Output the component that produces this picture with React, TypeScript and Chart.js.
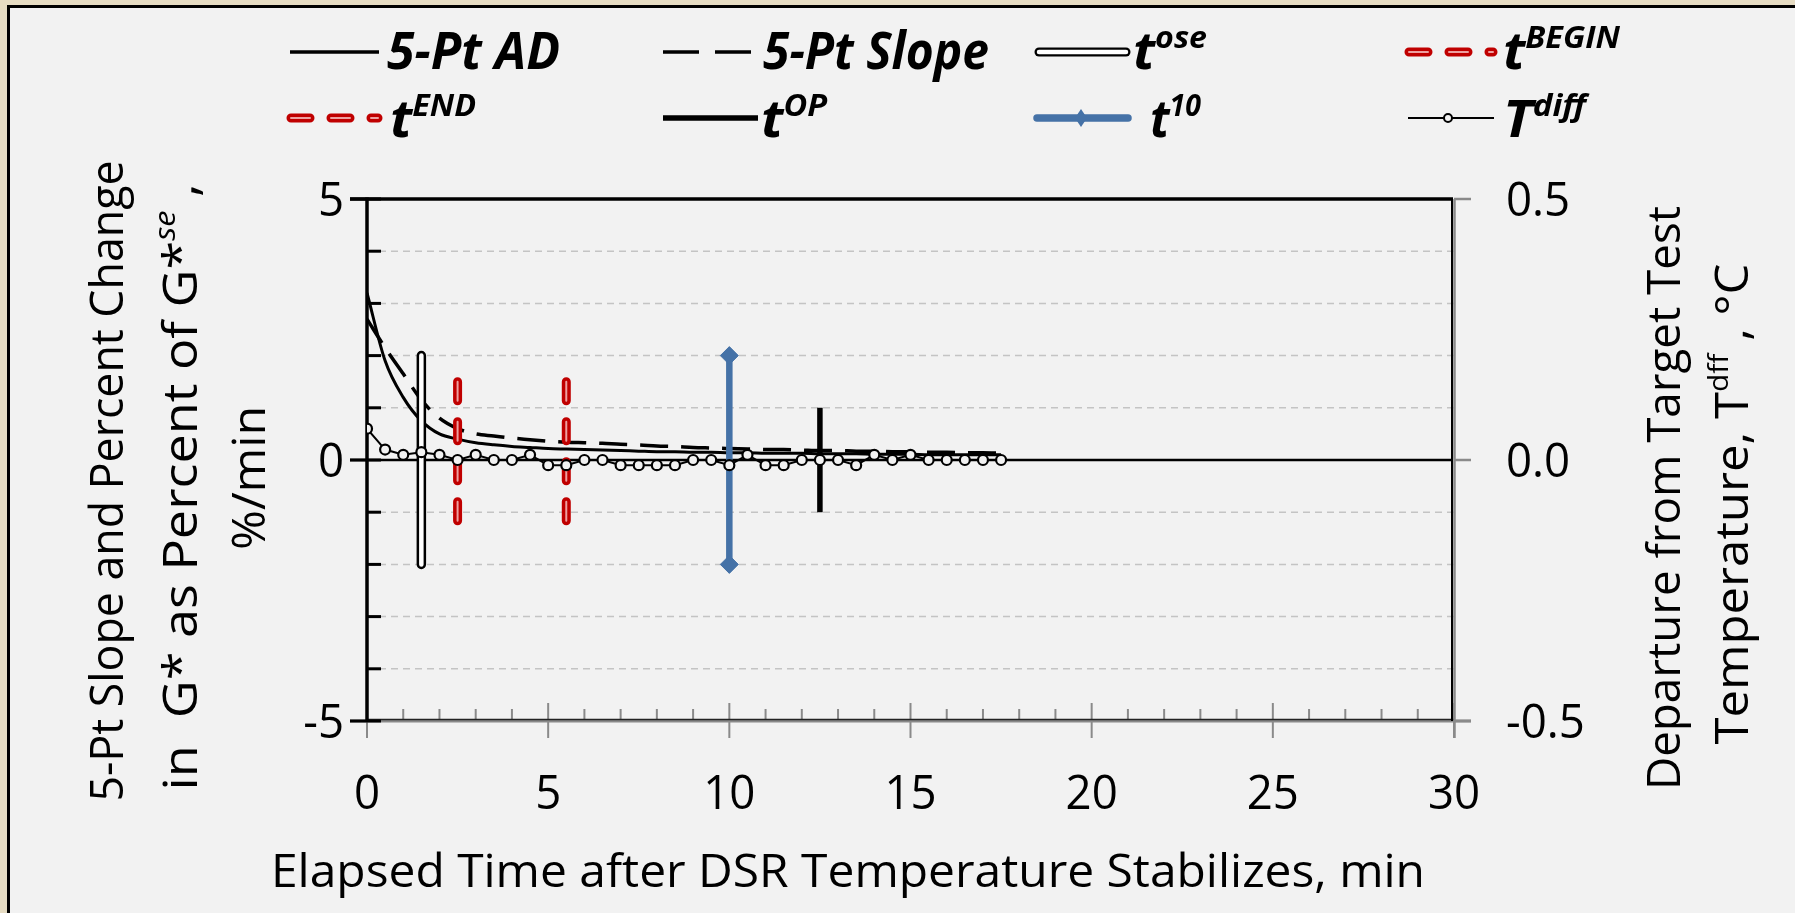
import React, { useEffect, useRef } from "react";
import { Chart, registerables } from "chart.js";

Chart.register(...registerables);

// ---------- data ----------
const times = [0, 0.5, 1, 1.5, 2, 2.5, 3, 3.5, 4, 4.5, 5, 5.5, 6, 6.5, 7, 7.5, 8, 8.5, 9, 9.5, 10, 10.5, 11, 11.5, 12, 12.5, 13, 13.5, 14, 14.5, 15, 15.5, 16, 16.5, 17, 17.5];
const adValues = [3.2, 1.9, 1.2, 0.75, 0.5, 0.4, 0.33, 0.29, 0.26, 0.24, 0.22, 0.21, 0.2, 0.19, 0.18, 0.17, 0.16, 0.16, 0.15, 0.15, 0.14, 0.14, 0.13, 0.13, 0.13, 0.12, 0.12, 0.12, 0.11, 0.11, 0.11, 0.1, 0.1, 0.1, 0.1, 0.1];
const slopeValues = [2.7, 2.15, 1.65, 1.15, 0.8, 0.6, 0.5, 0.46, 0.42, 0.39, 0.36, 0.34, 0.33, 0.32, 0.3, 0.29, 0.27, 0.26, 0.24, 0.23, 0.22, 0.21, 0.2, 0.2, 0.19, 0.18, 0.18, 0.17, 0.17, 0.16, 0.16, 0.15, 0.15, 0.14, 0.14, 0.13];
const tdiffValues = [0.06, 0.02, 0.01, 0.015, 0.01, 0, 0.01, 0, 0, 0.01, -0.01, -0.01, 0, 0, -0.01, -0.01, -0.01, -0.01, 0, 0, -0.01, 0.01, -0.01, -0.01, 0, 0, 0, -0.01, 0.01, 0, 0.01, 0, 0, 0, 0, 0];

const oseTime = [1.5, 1.5];
const oseRange = [2, -2];
const beginTime = [2.5, 2.5];
const beginRange = [1.5, -1.5];
const endTime = [5.5, 5.5];
const endRange = [1.5, -1.5];
const t10Time = [10, 10];
const t10Range = [2, -2];
const opTime = [12.5, 12.5];
const opRange = [1, -1];

const xTicks = [0, 5, 10, 15, 20, 25, 30];
const yLeftTicks = [5, 0, -5];
const yLeftTickLabels = ["5", "0", "-5"];
const yRightTicks = [0.5, 0, -0.5];
const yRightTickLabels = ["0.5", "0.0", "-0.5"];

// ---------- styling ----------
const OX = 10;
const OY = 8;
const BLUE = "#4572a7";
const RED = "#c00000";
const RED_IN = "#eea0a0";
const BG = "#f2f2f2";
const FONT = '"Open Sans", "Noto Sans", "DejaVu Sans", sans-serif';
const f = (size: number, style = "") => `${style} ${size}px ${FONT}`.trim();

type Run = { t: string; font: string; dy?: number };

function drawRuns(
  ctx: CanvasRenderingContext2D,
  runs: Run[],
  x: number,
  y: number,
  align: "left" | "center" | "right",
  width?: number,
  sxFixed = 1,
  rot = 0
) {
  ctx.save();
  let W = 0;
  const ws = runs.map((r) => {
    ctx.font = r.font;
    const w = ctx.measureText(r.t).width;
    W += w;
    return w;
  });
  const sx = width ? width / W : sxFixed;
  ctx.translate(x, y);
  if (rot) ctx.rotate(rot);
  ctx.scale(sx, 1);
  let cx = align === "left" ? 0 : align === "center" ? -W / 2 : -W;
  ctx.fillStyle = "#000";
  ctx.textBaseline = "alphabetic";
  ctx.textAlign = "left";
  runs.forEach((r, i) => {
    ctx.font = r.font;
    ctx.fillText(r.t, cx, r.dy ?? 0);
    cx += ws[i];
  });
  ctx.restore();
}

function seg(
  ctx: CanvasRenderingContext2D,
  x1: number,
  y1: number,
  x2: number,
  y2: number,
  color: string,
  width: number,
  dash: number[] = [],
  cap: CanvasLineCap = "butt"
) {
  ctx.save();
  ctx.strokeStyle = color;
  ctx.lineWidth = width;
  ctx.setLineDash(dash);
  ctx.lineCap = cap;
  ctx.beginPath();
  ctx.moveTo(x1, y1);
  ctx.lineTo(x2, y2);
  ctx.stroke();
  ctx.restore();
}

const px = (v: number) => v - OX;
const py = (v: number) => v - OY;

const decor = {
  id: "decor",
  beforeDatasetsDraw(chart: any) {
    const { ctx, chartArea: a } = chart;
    const x = chart.scales.x;
    const y = chart.scales.y;
    const y2 = chart.scales.y2;
    // dashed gridlines
    for (let v = -4; v <= 4; v++) {
      if (v === 0) continue;
      const yy = y.getPixelForValue(v);
      seg(ctx, a.left, yy, a.right, yy, "#c4c4c4", 1.5, [7, 5]);
    }
    // x ticks
    for (let v = 0; v <= 30; v++) {
      const xx = x.getPixelForValue(v);
      if (v % 5 === 0) seg(ctx, xx, a.bottom - 18, xx, a.bottom + 17, "#8a8a8a", 2);
      else seg(ctx, xx, a.bottom - 12, xx, a.bottom, "#8a8a8a", 2);
    }
    // bottom axis
    seg(ctx, a.left - 17, a.bottom, a.right + 17, a.bottom, "#8a8a8a", 3);
    seg(ctx, a.left, a.bottom - 1.5, a.right, a.bottom - 1.5, "#222", 1.5);
    // right axis
    seg(ctx, a.right - 2, a.top, a.right - 2, a.bottom, "#000", 2);
    seg(ctx, a.right + 0.5, a.top, a.right + 0.5, a.bottom + 17, "#8a8a8a", 2.5);
    yRightTicks.forEach((v) => {
      const yy = y2.getPixelForValue(v);
      seg(ctx, a.right, yy, a.right + 17, yy, "#8a8a8a", 2.5);
    });
    // zero line
    const y0 = y.getPixelForValue(0);
    seg(ctx, a.left - 17, y0, a.right - 2, y0, "#000", 2.5);
    // left minor ticks (inside)
    for (let v = -5; v <= 5; v++) {
      const yy = y.getPixelForValue(v);
      seg(ctx, a.left, yy, a.left + 14, yy, "#000", 3);
    }
    // left major ticks (outside)
    yLeftTicks.forEach((v) => {
      const yy = y.getPixelForValue(v);
      seg(ctx, a.left - 17, yy, a.left, yy, "#000", 3);
    });
    // top border
    seg(ctx, a.left - 17, a.top, a.right - 1, a.top, "#000", 3.5);
    // left axis
    seg(ctx, a.left, a.top - 1.5, a.left, a.bottom, "#000", 3.5);
  },
  afterDraw(chart: any) {
    const { ctx } = chart;
    const x = chart.scales.x;
    const y = chart.scales.y;
    const y2 = chart.scales.y2;

    // tick labels
    xTicks.forEach((v) => {
      drawRuns(ctx, [{ t: String(v), font: f(48) }], x.getPixelForValue(v), py(809), "center", undefined, 0.95);
    });
    yLeftTicks.forEach((v, i) => {
      drawRuns(ctx, [{ t: yLeftTickLabels[i], font: f(48) }], px(344), y.getPixelForValue(v) + 17, "right", undefined, 0.95);
    });
    yRightTicks.forEach((v, i) => {
      drawRuns(ctx, [{ t: yRightTickLabels[i], font: f(48) }], px(1506), y2.getPixelForValue(v) + 17, "left", undefined, 0.95);
    });

    // x title
    drawRuns(ctx, [{ t: "Elapsed Time after DSR Temperature Stabilizes, min", font: f(46) }], px(848), py(887), "center", 1154);

    // left title
    const R = -Math.PI / 2;
    drawRuns(ctx, [{ t: "5-Pt Slope and Percent Change", font: f(46) }], px(123), py(481), "center", 641, 1, R);
    drawRuns(
      ctx,
      [
        { t: "in  G* as Percent of G*", font: f(48) },
        { t: "se", font: f(30, "italic"), dy: -22 },
        { t: " ,", font: f(48) },
      ],
      px(197),
      py(487),
      "center",
      607,
      1,
      R
    );
    drawRuns(ctx, [{ t: "%/min", font: f(46) }], px(265), py(478), "center", 144, 1, R);

    // right title
    drawRuns(ctx, [{ t: "Departure from Target Test", font: f(46) }], px(1680), py(498), "center", 584, 1, R);
    drawRuns(
      ctx,
      [
        { t: "Temperature, T", font: f(46) },
        { t: "dff", font: f(28), dy: -20 },
        { t: " , °C", font: f(46) },
      ],
      px(1748),
      py(504),
      "center",
      481,
      1,
      R
    );

    // ---------- legend ----------
    const r1 = py(52);
    const b1 = py(69);
    const r2 = py(118);
    const b2 = py(137);
    const LB = f(52, "italic bold");
    const LS = f(31, "italic bold");
    const label = (runs: Run[], left: number, base: number, w: number) =>
      drawRuns(ctx, runs, px(left), base, "left", w);

    // 5-Pt AD
    seg(ctx, px(290), r1, px(379), r1, "#000", 3.5);
    label([{ t: "5-Pt AD", font: LB }], 387, b1, 173);
    // 5-Pt Slope
    seg(ctx, px(663), r1, px(758), r1, "#000", 3.5, [36, 16]);
    label([{ t: "5-Pt Slope", font: LB }], 763, b1, 226);
    // t ose
    seg(ctx, px(1039), r1, px(1126), r1, "#000", 9, [], "round");
    seg(ctx, px(1039), r1, px(1126), r1, "#fff", 4.5, [], "round");
    label([{ t: "t", font: LB }, { t: "ose", font: LS, dy: -21 }], 1133, b1, 74);
    // t BEGIN
    seg(ctx, px(1409), r1, px(1493), r1, RED, 9, [19, 21], "round");
    seg(ctx, px(1409), r1, px(1493), r1, RED_IN, 2, [19, 21], "round");
    label([{ t: "t", font: LB }, { t: "BEGIN", font: LS, dy: -21 }], 1503, b1, 117);
    // t END
    seg(ctx, px(291), r2, px(378), r2, RED, 9, [19, 21], "round");
    seg(ctx, px(291), r2, px(378), r2, RED_IN, 2, [19, 21], "round");
    label([{ t: "t", font: LB }, { t: "END", font: LS, dy: -21 }], 390, b2, 86);
    // t OP
    seg(ctx, px(663), r2, px(758), r2, "#000", 5.5);
    label([{ t: "t", font: LB }, { t: "OP", font: LS, dy: -21 }], 761, b2, 66);
    // t 10
    seg(ctx, px(1037), r2, px(1128), r2, BLUE, 7.5, [], "round");
    ctx.save();
    ctx.fillStyle = BLUE;
    ctx.beginPath();
    const dx = px(1081);
    ctx.moveTo(dx, r2 - 9);
    ctx.lineTo(dx + 6, r2);
    ctx.lineTo(dx, r2 + 9);
    ctx.lineTo(dx - 6, r2);
    ctx.closePath();
    ctx.fill();
    ctx.restore();
    label([{ t: "t", font: LB }, { t: "10", font: LS, dy: -21 }], 1150, b2, 51);
    // T diff
    seg(ctx, px(1408), r2, px(1494), r2, "#000", 2);
    ctx.save();
    ctx.fillStyle = BG;
    ctx.strokeStyle = "#000";
    ctx.lineWidth = 2;
    ctx.beginPath();
    ctx.arc(px(1448), r2, 4, 0, Math.PI * 2);
    ctx.fill();
    ctx.stroke();
    ctx.restore();
    label([{ t: "T", font: LB }, { t: "diff", font: LS, dy: -21 }], 1503, b2, 83);
  },
};

const pts = (xs: number[], ys: number[]) => xs.map((v, i) => ({ x: v, y: ys[i] }));

export default function App() {
  const ref = useRef<HTMLCanvasElement>(null);
  useEffect(() => {
    document.documentElement.style.overflow = "hidden";
    const canvas = ref.current!;
    const redOuter = { borderColor: RED, borderWidth: 9, borderDash: [19, 21], borderCapStyle: "round", pointRadius: 0 };
    const redInner = { borderColor: RED_IN, borderWidth: 2, borderDash: [19, 21], borderCapStyle: "round", pointRadius: 0 };
    const chart = new Chart(canvas, {
      type: "line",
      data: {
        datasets: [
          {
            label: "Tdiff",
            data: pts(times, tdiffValues),
            yAxisID: "y2",
            borderColor: "#000",
            borderWidth: 2,
            pointRadius: 5,
            pointBorderWidth: 2.2,
            pointBackgroundColor: BG,
            pointBorderColor: "#000",
            order: 0,
          },
          { label: "tOP", data: pts(opTime, opRange), yAxisID: "y", borderColor: "#000", borderWidth: 5.5, pointRadius: 0, order: 1 },
          {
            label: "t10",
            data: pts(t10Time, t10Range),
            yAxisID: "y",
            borderColor: BLUE,
            borderWidth: 6.5,
            pointStyle: "rectRot",
            pointRadius: 9,
            pointBackgroundColor: BLUE,
            pointBorderColor: BLUE,
            pointBorderWidth: 1,
            order: 2,
          },
          { label: "tEND in", data: pts(endTime, endRange), yAxisID: "y", ...redInner, order: 3 },
          { label: "tEND", data: pts(endTime, endRange), yAxisID: "y", ...redOuter, order: 4 },
          { label: "tBEGIN in", data: pts(beginTime, beginRange), yAxisID: "y", ...redInner, order: 5 },
          { label: "tBEGIN", data: pts(beginTime, beginRange), yAxisID: "y", ...redOuter, order: 6 },
          { label: "tose in", data: pts(oseTime, oseRange), yAxisID: "y", borderColor: "#fff", borderWidth: 4.5, borderCapStyle: "round", pointRadius: 0, order: 7 },
          { label: "tose", data: pts(oseTime, oseRange), yAxisID: "y", borderColor: "#000", borderWidth: 9.5, borderCapStyle: "round", pointRadius: 0, order: 8 },
          {
            label: "5-Pt Slope",
            data: pts(times, slopeValues),
            yAxisID: "y",
            borderColor: "#000",
            borderWidth: 3.5,
            borderDash: [28, 13],
            cubicInterpolationMode: "monotone",
            pointRadius: 0,
            order: 9,
          },
          {
            label: "5-Pt AD",
            data: pts(times, adValues),
            yAxisID: "y",
            borderColor: "#000",
            borderWidth: 3,
            cubicInterpolationMode: "monotone",
            pointRadius: 0,
            order: 10,
          },
        ] as any,
      },
      options: {
        responsive: false,
        animation: false,
        devicePixelRatio: 1,
        layout: { padding: { left: 357, right: 341, top: 191, bottom: 192 } },
        plugins: { legend: { display: false }, tooltip: { enabled: false } },
        scales: {
          x: { type: "linear", min: 0, max: 30, display: false },
          y: { type: "linear", min: -5, max: 5, display: false },
          y2: { type: "linear", min: -0.5, max: 0.5, display: false },
        },
      },
      plugins: [decor],
    });
    return () => chart.destroy();
  }, []);

  return (
    <div style={{ position: "absolute", left: 0, top: 0, width: 1795, height: 913, background: "#e6dcc3", overflow: "hidden" }}>
      <div
        style={{
          position: "absolute",
          left: 7,
          top: 5,
          width: 1788,
          height: 908,
          boxSizing: "border-box",
          borderLeft: "3px solid #000",
          borderTop: "3px solid #000",
          background: BG,
        }}
      />
      <canvas ref={ref} width={1785} height={905} style={{ position: "absolute", left: 10, top: 8, width: 1785, height: 905 }} />
    </div>
  );
}
